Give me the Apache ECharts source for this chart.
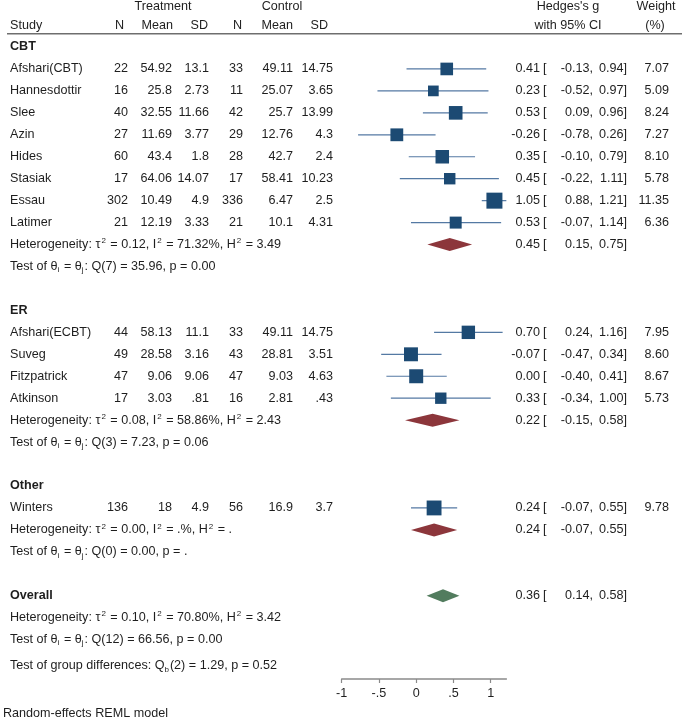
<!DOCTYPE html>
<html><head><meta charset="utf-8">
<script src="https://cdn.jsdelivr.net/npm/echarts@6/dist/echarts.min.js"></script>
<style>html,body{margin:0;padding:0;background:#fff}#c{width:685px;height:721px}</style>
</head><body><div id="c"></div>
<script>
// ---------------- data ----------------
const groups = ['CBT', 'ER', 'Other'];
const studies = ['Afshari(CBT)', 'Hannesdottir', 'Slee', 'Azin', 'Hides', 'Stasiak', 'Essau', 'Latimer',
  'Afshari(ECBT)', 'Suveg', 'Fitzpatrick', 'Atkinson', 'Winters'];
const studyGroup = ['CBT', 'CBT', 'CBT', 'CBT', 'CBT', 'CBT', 'CBT', 'CBT', 'ER', 'ER', 'ER', 'ER', 'Other'];
const treatN = [22, 16, 40, 27, 60, 17, 302, 21, 44, 49, 47, 17, 136];
const treatMean = [54.92, 25.8, 32.55, 11.69, 43.4, 64.06, 10.49, 12.19, 58.13, 28.58, 9.06, 3.03, 18];
const treatSD = [13.1, 2.73, 11.66, 3.77, 1.8, 14.07, 4.9, 3.33, 11.1, 3.16, 9.06, 0.81, 4.9];
const ctrlN = [33, 11, 42, 29, 28, 17, 336, 21, 33, 43, 47, 16, 56];
const ctrlMean = [49.11, 25.07, 25.7, 12.76, 42.7, 58.41, 6.47, 10.1, 49.11, 28.81, 9.03, 2.81, 16.9];
const ctrlSD = [14.75, 3.65, 13.99, 4.3, 2.4, 10.23, 2.5, 4.31, 14.75, 3.51, 4.63, 0.43, 3.7];
const hedgesG = [0.41, 0.23, 0.53, -0.26, 0.35, 0.45, 1.05, 0.53, 0.70, -0.07, 0.00, 0.33, 0.24];
const ciLow = [-0.13, -0.52, 0.09, -0.78, -0.10, -0.22, 0.88, -0.07, 0.24, -0.47, -0.40, -0.34, -0.07];
const ciHigh = [0.94, 0.97, 0.96, 0.26, 0.79, 1.11, 1.21, 1.14, 1.16, 0.34, 0.41, 1.00, 0.55];
const weights = [7.07, 5.09, 8.24, 7.27, 8.10, 5.78, 11.35, 6.36, 7.95, 8.60, 8.67, 5.73, 9.78];

const groupG = [0.45, 0.22, 0.24];
const groupLow = [0.15, -0.15, -0.07];
const groupHigh = [0.75, 0.58, 0.55];
const groupTau2 = ['0.12', '0.08', '0.00'];
const groupI2 = ['71.32%', '58.86%', '.%'];
const groupH2 = ['3.49', '2.43', '.'];
const groupQ = ['35.96', '7.23', '0.00'];
const groupDf = [7, 3, 0];
const groupP = ['0.00', '0.06', '.'];

const overallG = 0.36, overallLow = 0.14, overallHigh = 0.58;
const overallTau2 = '0.10', overallI2 = '70.80%', overallH2 = '3.42';
const overallQ = '66.56', overallDf = 12, overallP = '0.00';
const groupDiffQ = '1.29', groupDiffDf = 2, groupDiffP = '0.52';

const xTickValues = [-1, -0.5, 0, 0.5, 1];
const xTickLabels = ['-1', '-.5', '0', '.5', '1'];

// ---------------- layout ----------------
const ROW0_Y = 47, ROW_H = 21.95, AXIS_Y = 679;
const Y_MIN = -2;
const Y_MAX = (AXIS_Y - ROW0_Y) / ROW_H;
const GRID_TOP = ROW0_Y + Y_MIN * ROW_H;
const X_MIN = -1, X_MAX = 1.21;
const PLOT_LEFT = 341.7, PX_PER_UNIT = 74.5;

const TXT = '#1e1e1e';
const FAM = '"Liberation Sans", Arial, sans-serif';
const FS = 12.6;
const FONT = FS + 'px ' + FAM;
const BOLD = 'bold ' + FS + 'px ' + FAM;
const COL = {study: 10, tN: 128, tMean: 172, tSD: 209, cN: 243, cMean: 293, cSD: 333,
  est: 540, br: 543, lo: 593, hi: 627, w: 669};

function num(v) { return String(v).replace(/^0\./, '.').replace(/^-0\./, '-.'); }
function f2(v) { return (Math.abs(v) < 0.005 ? 0 : v).toFixed(2); }

// build rows
const rowItems = [];
const studyRows = [], groupRows = [];
let r = 0;
groups.forEach((g, gi) => {
  rowItems.push({row: r, kind: 'ghead', label: g}); r++;
  studies.forEach((s, i) => {
    if (studyGroup[i] !== g) return;
    studyRows[i] = r;
    rowItems.push({row: r, kind: 'study', i}); r++;
  });
  groupRows[gi] = r;
  rowItems.push({row: r, kind: 'het', tau2: groupTau2[gi], i2: groupI2[gi], h2: groupH2[gi],
    g: groupG[gi], lo: groupLow[gi], hi: groupHigh[gi]}); r++;
  rowItems.push({row: r, kind: 'test', df: groupDf[gi], q: groupQ[gi], p: groupP[gi]}); r++;
  r++;
});
const overallRow = r;
rowItems.push({row: r, kind: 'overall', g: overallG, lo: overallLow, hi: overallHigh}); r++;
rowItems.push({row: r, kind: 'het', tau2: overallTau2, i2: overallI2, h2: overallH2}); r++;
rowItems.push({row: r, kind: 'test', df: overallDf, q: overallQ, p: overallP});
rowItems.push({row: r + 1.2, kind: 'gdiff'});
rowItems.push({row: -1.83, kind: 'head1'});
rowItems.push({row: -1.0, kind: 'head2'});
rowItems.push({row: -0.6, kind: 'rule'});
rowItems.push({row: 30.35, kind: 'note'});

const rich = {
  sup: {fontSize: 8, lineHeight: 8, verticalAlign: 'top', fill: TXT, fontFamily: FAM, padding: [0, 1, 0, 1]},
  sub: {fontSize: 8, lineHeight: 8, verticalAlign: 'bottom', fill: TXT, fontFamily: FAM, padding: [0, 1, 0, 0]}
};
function t(x, y, text, align, bold, useRich) {
  const style = {text, x: 0, y: 0, fill: TXT, font: bold ? BOLD : FONT, align: align || 'left', verticalAlign: 'middle'};
  if (useRich) { style.rich = rich; style.lineHeight = 15; }
  return {type: 'text', x, y, style, silent: true};
}
function ciTexts(y, g, lo, hi) {
  return [t(COL.est, y, f2(g), 'right'), t(COL.br, y, '[', 'left'),
    t(COL.lo, y, f2(lo) + ',', 'right'), t(COL.hi, y, f2(hi) + ']', 'right')];
}

function renderText(params, api) {
  const it = rowItems[params.dataIndex];
  const y = api.coord([0, it.row])[1];
  const ch = [];
  switch (it.kind) {
    case 'ghead': ch.push(t(COL.study, y, it.label, 'left', true)); break;
    case 'study': {
      const i = it.i;
      ch.push(t(COL.study, y, studies[i]));
      ch.push(t(COL.tN, y, String(treatN[i]), 'right'));
      ch.push(t(COL.tMean, y, num(treatMean[i]), 'right'));
      ch.push(t(COL.tSD, y, num(treatSD[i]), 'right'));
      ch.push(t(COL.cN, y, String(ctrlN[i]), 'right'));
      ch.push(t(COL.cMean, y, num(ctrlMean[i]), 'right'));
      ch.push(t(COL.cSD, y, num(ctrlSD[i]), 'right'));
      ch.push(...ciTexts(y, hedgesG[i], ciLow[i], ciHigh[i]));
      ch.push(t(COL.w, y, weights[i].toFixed(2), 'right'));
      break;
    }
    case 'het':
      ch.push(t(COL.study, y, 'Heterogeneity: τ{sup|2} = ' + it.tau2 + ', I{sup|2} = ' + it.i2 + ', H{sup|2} = ' + it.h2, 'left', false, true));
      if (it.g !== undefined) ch.push(...ciTexts(y, it.g, it.lo, it.hi));
      break;
    case 'test':
      ch.push(t(COL.study, y, 'Test of θ{sub|i} = θ{sub|j}: Q(' + it.df + ') = ' + it.q + ', p = ' + it.p, 'left', false, true));
      break;
    case 'overall':
      ch.push(t(COL.study, y, 'Overall', 'left', true));
      ch.push(...ciTexts(y, it.g, it.lo, it.hi));
      break;
    case 'gdiff':
      ch.push(t(COL.study, y, 'Test of group differences: Q{sub|b}(' + groupDiffDf + ') = ' + groupDiffQ + ', p = ' + groupDiffP, 'left', false, true));
      break;
    case 'head1':
      ch.push(t(163, y, 'Treatment', 'center'));
      ch.push(t(282, y, 'Control', 'center'));
      ch.push(t(568, y, "Hedges's g", 'center'));
      ch.push(t(656, y, 'Weight', 'center'));
      break;
    case 'head2':
      ch.push(t(COL.study, y, 'Study'));
      ch.push(t(124, y, 'N', 'right'));
      ch.push(t(173, y, 'Mean', 'right'));
      ch.push(t(208, y, 'SD', 'right'));
      ch.push(t(242, y, 'N', 'right'));
      ch.push(t(293, y, 'Mean', 'right'));
      ch.push(t(328, y, 'SD', 'right'));
      ch.push(t(568, y, 'with 95% CI', 'center'));
      ch.push(t(655, y, '(%)', 'center'));
      break;
    case 'rule':
      ch.push({type: 'line', shape: {x1: 7, y1: y, x2: 682, y2: y}, style: {stroke: '#6e6e6e', lineWidth: 1.5}, silent: true});
      break;
    case 'note':
      ch.push(t(3, y, 'Random-effects REML model'));
      break;
  }
  return {type: 'group', children: ch};
}

const ciData = studies.map((s, i) => [ciLow[i], ciHigh[i], studyRows[i]]);
const markerData = studies.map((s, i) => [hedgesG[i], studyRows[i], weights[i]]);
const diamondData = groups.map((g, gi) => [groupLow[gi], groupG[gi], groupHigh[gi], groupRows[gi], 0])
  .concat([[overallLow, overallG, overallHigh, overallRow, 1]]);

const chart = echarts.init(document.getElementById('c'), null, {renderer: 'canvas'});
chart.setOption({
  animation: false,
  backgroundColor: '#fff',
  grid: {left: PLOT_LEFT, top: GRID_TOP, width: (X_MAX - X_MIN) * PX_PER_UNIT, height: AXIS_Y - GRID_TOP, containLabel: false},
  xAxis: {
    type: 'value', min: X_MIN, max: X_MAX, position: 'bottom',
    axisLine: {show: true, onZero: false, lineStyle: {color: '#8a8a8a', width: 1.5}},
    axisTick: {show: true, length: 4, inside: false, lineStyle: {color: '#8a8a8a', width: 1.2}, customValues: xTickValues},
    axisLabel: {customValues: xTickValues, color: TXT, fontSize: FS, fontFamily: FAM, margin: 8,
      formatter: v => xTickLabels[xTickValues.indexOf(v)] || ''},
    splitLine: {show: false}
  },
  yAxis: {type: 'value', inverse: true, min: Y_MIN, max: Y_MAX, show: false},
  series: [
    {
      type: 'custom', name: 'ci', clip: false, data: ciData, z: 2,
      renderItem: (p, api) => {
        const a = api.coord([api.value(0), api.value(2)]);
        const b = api.coord([api.value(1), api.value(2)]);
        return {type: 'line', shape: {x1: a[0], y1: a[1], x2: b[0], y2: b[1]}, style: {stroke: '#5479a3', lineWidth: 1.2}};
      }
    },
    {
      type: 'scatter', name: 'est', data: markerData, z: 3, symbol: 'rect',
      symbolSize: v => 4.75 * Math.sqrt(v[2]),
      itemStyle: {color: '#1c4a73', opacity: 1}
    },
    {
      type: 'custom', name: 'diamond', clip: false, data: diamondData, z: 3,
      renderItem: (p, api) => {
        const row = api.value(3);
        const l = api.coord([api.value(0), row]);
        const c = api.coord([api.value(1), row]);
        const h = api.coord([api.value(2), row]);
        const hh = 6.5;
        return {type: 'polygon', shape: {points: [[l[0], l[1]], [c[0], c[1] - hh], [h[0], h[1]], [c[0], c[1] + hh]]},
          style: {fill: api.value(4) ? '#527c5e' : '#8c363b'}};
      }
    },
    {
      type: 'custom', name: 'text', clip: false, data: rowItems.map(it => [0, it.row]), z: 5,
      renderItem: renderText
    }
  ]
});
</script>
</body></html>
